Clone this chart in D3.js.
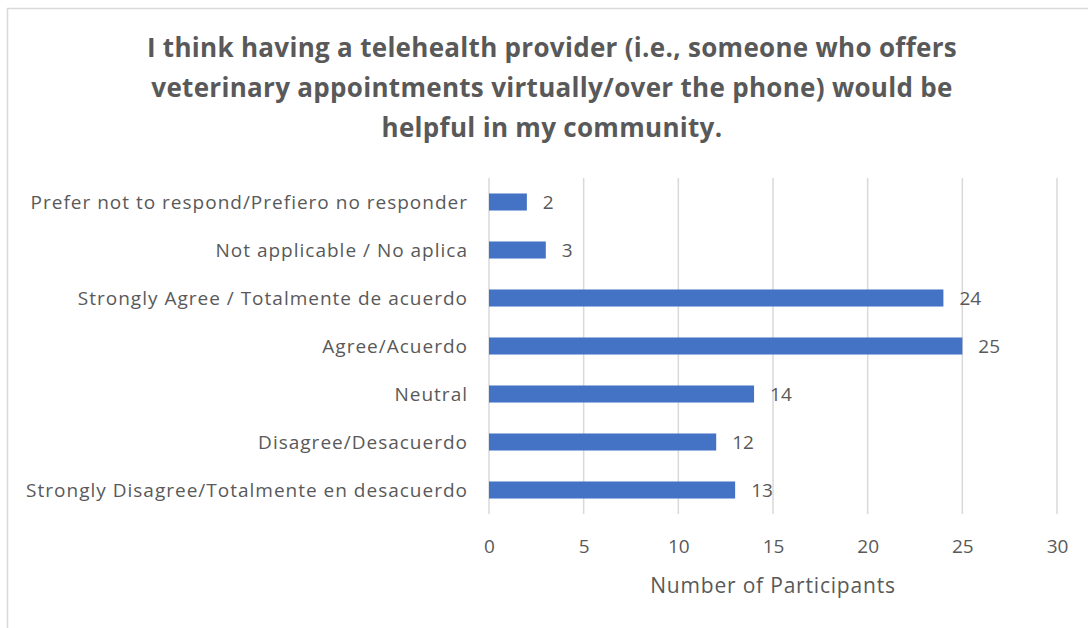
<!DOCTYPE html>
<html>
<head>
<meta charset="utf-8">
<script src="https://cdn.jsdelivr.net/npm/d3@7"></script>
<style>
  html, body { margin: 0; padding: 0; background: #fff; }
  svg { display: block; }
  text { font-family: "Open Sans", sans-serif; fill: #595959; }
</style>
</head>
<body>
<svg id="chart" width="1088" height="628"></svg>
<script>
// Survey responses, listed top to bottom as drawn
const categories = [
  "Prefer not to respond/Prefiero no responder",
  "Not applicable / No aplica",
  "Strongly Agree / Totalmente de acuerdo",
  "Agree/Acuerdo",
  "Neutral",
  "Disagree/Desacuerdo",
  "Strongly Disagree/Totalmente en desacuerdo"
];
const participants = [2, 3, 24, 25, 14, 12, 13];
const xTicks = [0, 5, 10, 15, 20, 25, 30];
const titleLines = [
  "I think having a telehealth provider (i.e., someone who offers",
  "veterinary appointments virtually/over the phone) would be",
  "helpful in my community."
];
const xAxisTitle = "Number of Participants";

const svg = d3.select("#chart");
const W = 1088, H = 628;

// Chart frame
svg.append("rect")
  .attr("x", 7.5).attr("y", 8.5)
  .attr("width", W + 10).attr("height", H + 10)
  .attr("fill", "#fff").attr("stroke", "#d9d9d9").attr("stroke-width", 1.5);

const plot = { left: 489, right: 1057, top: 178, bottom: 514 };

const x = d3.scaleLinear().domain([0, 30]).range([plot.left, plot.right]);
const y = d3.scaleBand().domain(categories).range([plot.top, plot.bottom]).paddingInner(0.645).paddingOuter(0.3225);

// Title
svg.append("g").selectAll("text").data(titleLines).join("text")
  .attr("x", 552).attr("y", (d, i) => 57 + i * 40)
  .attr("text-anchor", "middle")
  .style("font-size", "26px").style("font-weight", "bold")
  .style("letter-spacing", "0.3px")
  .text(d => d);

// Vertical gridlines
svg.append("g").selectAll("line").data(xTicks).join("line")
  .attr("x1", d => x(d)).attr("x2", d => x(d))
  .attr("y1", plot.top).attr("y2", plot.bottom)
  .attr("stroke", "#d9d9d9").attr("stroke-width", 1.5);

// X axis tick labels
const xAxis = d3.axisBottom(x).tickValues(xTicks).tickSize(0).tickPadding(0);
const gx = svg.append("g").attr("transform", `translate(0,${plot.bottom})`).call(xAxis);
gx.select(".domain").remove();
gx.selectAll("text")
  .attr("y", 39).attr("dy", null)
  .style("font-size", "19px").style("font-family", "'Open Sans', sans-serif").attr("fill", "#595959");

// Category axis
const yAxis = d3.axisLeft(y).tickSize(0).tickPadding(0);
const gy = svg.append("g").attr("transform", `translate(${plot.left - 21},0)`).call(yAxis);
gy.select(".domain").remove();
gy.selectAll("text")
  .attr("dy", "0.35em")
  .style("font-size", "19px").style("letter-spacing", "1px")
  .style("font-family", "'Open Sans', sans-serif").attr("fill", "#595959");

// Bars
svg.append("g").selectAll("rect").data(categories).join("rect")
  .attr("x", x(0))
  .attr("y", d => y(d))
  .attr("width", (d, i) => x(participants[i]) - x(0))
  .attr("height", y.bandwidth())
  .attr("fill", "#4472c4");

// Value labels
svg.append("g").selectAll("text").data(categories).join("text")
  .attr("x", (d, i) => x(participants[i]) + 16)
  .attr("y", d => y(d) + y.bandwidth() / 2)
  .attr("dy", "0.35em")
  .style("font-size", "19px")
  .attr("fill", "#404040")
  .text((d, i) => participants[i]);

// Axis title
svg.append("text")
  .attr("x", (plot.left + plot.right) / 2).attr("y", 593)
  .attr("text-anchor", "middle")
  .style("font-size", "21px").style("letter-spacing", "0.8px")
  .text(xAxisTitle);
</script>
</body>
</html>
